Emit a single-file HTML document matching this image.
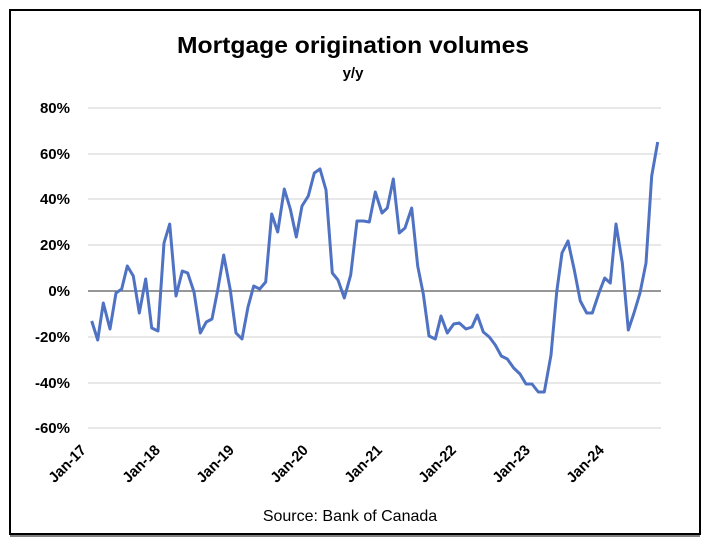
<!DOCTYPE html>
<html><head><meta charset="utf-8"><style>
html,body{margin:0;padding:0;background:#fff;}
svg{display:block;}
text{font-family:"Liberation Sans",sans-serif;fill:#000;}
</style></head><body>
<svg width="706" height="538" viewBox="0 0 706 538" xmlns="http://www.w3.org/2000/svg">
<rect x="10" y="10" width="690" height="524" fill="#fff" stroke="#000" stroke-width="2"/>
<line x1="10" y1="536" x2="700" y2="536" stroke="#000" stroke-width="1"/>
<text x="353" y="53" text-anchor="middle" font-size="23" font-weight="bold" textLength="352" lengthAdjust="spacingAndGlyphs">Mortgage origination volumes</text>
<text x="353" y="78" text-anchor="middle" font-size="15" font-weight="bold">y/y</text>
<g stroke="#d9d9d9" stroke-width="1.3">
<line x1="88" y1="108" x2="661" y2="108"/>
<line x1="88" y1="154" x2="661" y2="154"/>
<line x1="88" y1="199" x2="661" y2="199"/>
<line x1="88" y1="245" x2="661" y2="245"/>
<line x1="88" y1="337" x2="661" y2="337"/>
<line x1="88" y1="383" x2="661" y2="383"/>
<line x1="88" y1="428" x2="661" y2="428"/>
</g>
<line x1="88" y1="291" x2="661" y2="291" stroke="#595959" stroke-width="1.3"/>
<g font-size="15" font-weight="bold" text-anchor="end">
<text x="70" y="113">80%</text>
<text x="70" y="159">60%</text>
<text x="70" y="204">40%</text>
<text x="70" y="250">20%</text>
<text x="70" y="296">0%</text>
<text x="70" y="342">-20%</text>
<text x="70" y="388">-40%</text>
<text x="70" y="433">-60%</text>
</g>
<g font-size="15" font-weight="bold" text-anchor="end">
<text transform="translate(87,451) rotate(-45)" textLength="46" lengthAdjust="spacingAndGlyphs">Jan-17</text>
<text transform="translate(161,451) rotate(-45)" textLength="46" lengthAdjust="spacingAndGlyphs">Jan-18</text>
<text transform="translate(235,451) rotate(-45)" textLength="46" lengthAdjust="spacingAndGlyphs">Jan-19</text>
<text transform="translate(309,451) rotate(-45)" textLength="46" lengthAdjust="spacingAndGlyphs">Jan-20</text>
<text transform="translate(383,451) rotate(-45)" textLength="46" lengthAdjust="spacingAndGlyphs">Jan-21</text>
<text transform="translate(457,451) rotate(-45)" textLength="46" lengthAdjust="spacingAndGlyphs">Jan-22</text>
<text transform="translate(531,451) rotate(-45)" textLength="46" lengthAdjust="spacingAndGlyphs">Jan-23</text>
<text transform="translate(605,451) rotate(-45)" textLength="46" lengthAdjust="spacingAndGlyphs">Jan-24</text>
</g>
<text x="350" y="521" text-anchor="middle" font-size="16">Source: Bank of Canada</text>
<polyline fill="none" stroke="#4f72c3" stroke-width="3" stroke-linejoin="round" points="91.7,321 97.7,340 103.3,303 110,329 116,293 121.7,289 127.3,266 133.3,276 139.3,313 145.7,279 151.7,328 158,331 164,243 169.7,224 176,296 182.3,271 187.7,273 194,292 200.3,333 206.3,322 212,319 217.7,290 223.7,255 230.3,290 236,333 242,339 248,307 253.7,286 259.7,289 265.7,282 271.7,214 277.7,232 284.3,189 290.3,209 296.3,237 302,206 308.3,196 314.3,173 320,169 326,190 332.3,273 338,280 344.3,298 350.7,275 357,221 363.3,221 369.3,222 375.3,192 382,213 387.3,208 393.3,179 399.3,233 405,228 411.7,208 417.7,266 423.3,294 429,336 435.3,339 441,316 447.3,333 453.7,324 459.3,323 466,329 472,327 477.3,315 483.3,332 489.3,337 495.3,345 501.3,356 507.3,359 513.7,368 520,374 526,384 532,384 538.3,392 544.3,392 551,355 556.7,292 562,253 568,241 574.3,270 580.3,301 586.7,313 592.3,313 599.3,292 604.7,278 610.3,283 616,224 622.3,263 628.3,330 634,313 640,293 646,263 651.7,176 657.7,142"/>
</svg>
</body></html>
